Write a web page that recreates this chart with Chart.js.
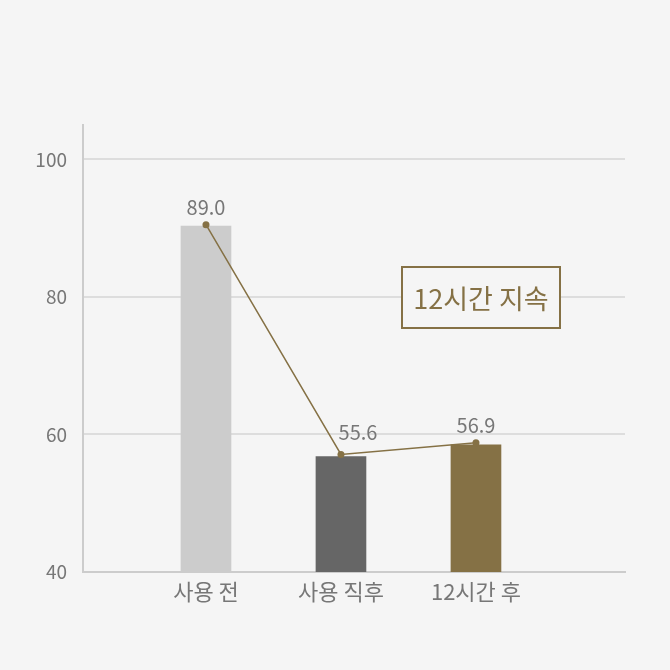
<!DOCTYPE html>
<html lang="ko">
<head>
<meta charset="utf-8">
<script src="https://cdn.jsdelivr.net/npm/chart.js@4/dist/chart.umd.min.js"></script>
<style>
  html, body { margin: 0; padding: 0; background: #f5f5f5; }
  #wrap { width: 670px; height: 670px; }
</style>
</head>
<body>
<div id="wrap"><canvas id="grafico"></canvas></div>
<script>
'use strict';

// categorias y valores
const categorias = ['사용 전', '사용 직후', '12시간 후'];
const valoresBarra = [90.3, 56.8, 58.5];
const valoresLinea = [90.5, 57.1, 58.8];
const etiquetasValor = ['89.0', '55.6', '56.9'];
const ticksY = [40, 60, 80, 100];
const coloresBarra = ['#cccccc', '#666666', '#857145'];
const textoCaja = '12시간 지속';

const FUENTE = "'Noto Sans CJK KR', 'Noto Sans', sans-serif";
const MARRON = '#857145';

// etiquetas de valor sobre la linea y la caja "12시간 지속"
const pluginTextos = {
    id: 'textos',
    afterDatasetsDraw(chart) {
        const ctx = chart.ctx;
        const meta = chart.getDatasetMeta(1);
        const desplaz = [[0, -17], [17, -22], [0, -17]];
        ctx.save();
        ctx.font = '20px ' + FUENTE;
        ctx.fillStyle = '#777777';
        ctx.textAlign = 'center';
        ctx.textBaseline = 'middle';
        meta.data.forEach((p, i) => {
            ctx.fillText(etiquetasValor[i], p.x + desplaz[i][0], p.y + desplaz[i][1]);
        });

        // caja
        const x = 402, y = 267, w = 158, h = 61;
        ctx.fillStyle = '#f5f5f5';
        ctx.fillRect(x, y, w, h);
        ctx.strokeStyle = MARRON;
        ctx.lineWidth = 2;
        ctx.strokeRect(x, y, w, h);
        ctx.fillStyle = MARRON;
        ctx.font = '27px ' + FUENTE;
        ctx.fillText(textoCaja, x + w / 2, y + h / 2 + 1);
        ctx.restore();
    }
};

const ctx = document.getElementById('grafico').getContext('2d');

new Chart(ctx, {
    data: {
        datasets: [
            {
                type: 'bar',
                data: valoresBarra.map((v, i) => ({ x: i, y: v })),
                backgroundColor: coloresBarra,
                barThickness: 50,
                order: 2
            },
            {
                type: 'line',
                data: valoresLinea.map((v, i) => ({ x: i, y: v })),
                borderColor: MARRON,
                backgroundColor: MARRON,
                borderWidth: 1.5,
                pointRadius: 3.5,
                pointBackgroundColor: MARRON,
                pointBorderWidth: 0,
                tension: 0,
                order: 1
            }
        ]
    },
    options: {
        responsive: true,
        maintainAspectRatio: false,
        animation: false,
        layout: { padding: { top: 125, right: 45, bottom: 0, left: 0 } },
        plugins: {
            legend: { display: false },
            tooltip: { enabled: false }
        },
        scales: {
            x: {
                type: 'linear',
                offset: false,
                min: -0.911,
                max: 3.104,
                afterBuildTicks: (eje) => { eje.ticks = categorias.map((c, i) => ({ value: i })); },
                afterFit: (eje) => { eje.height = 98; },
                grid: { display: false, drawTicks: false },
                border: { color: '#cccccc', width: 2 },
                ticks: {
                    autoSkip: false,
                    maxRotation: 0,
                    padding: 6,
                    color: '#777777',
                    font: { family: FUENTE, size: 22 },
                    callback: (v) => categorias[v] ?? ''
                }
            },
            y: {
                min: 40,
                max: 105,
                afterBuildTicks: (eje) => { eje.ticks = ticksY.map(v => ({ value: v })); },
                afterFit: (eje) => { eje.width = 83; },
                grid: { color: '#dddddd', lineWidth: 2, drawTicks: false },
                border: { color: '#cccccc', width: 2 },
                ticks: {
                    padding: 16,
                    color: '#777777',
                    font: { family: FUENTE, size: 19 }
                }
            }
        }
    },
    plugins: [pluginTextos]
});
</script>
</body>
</html>
